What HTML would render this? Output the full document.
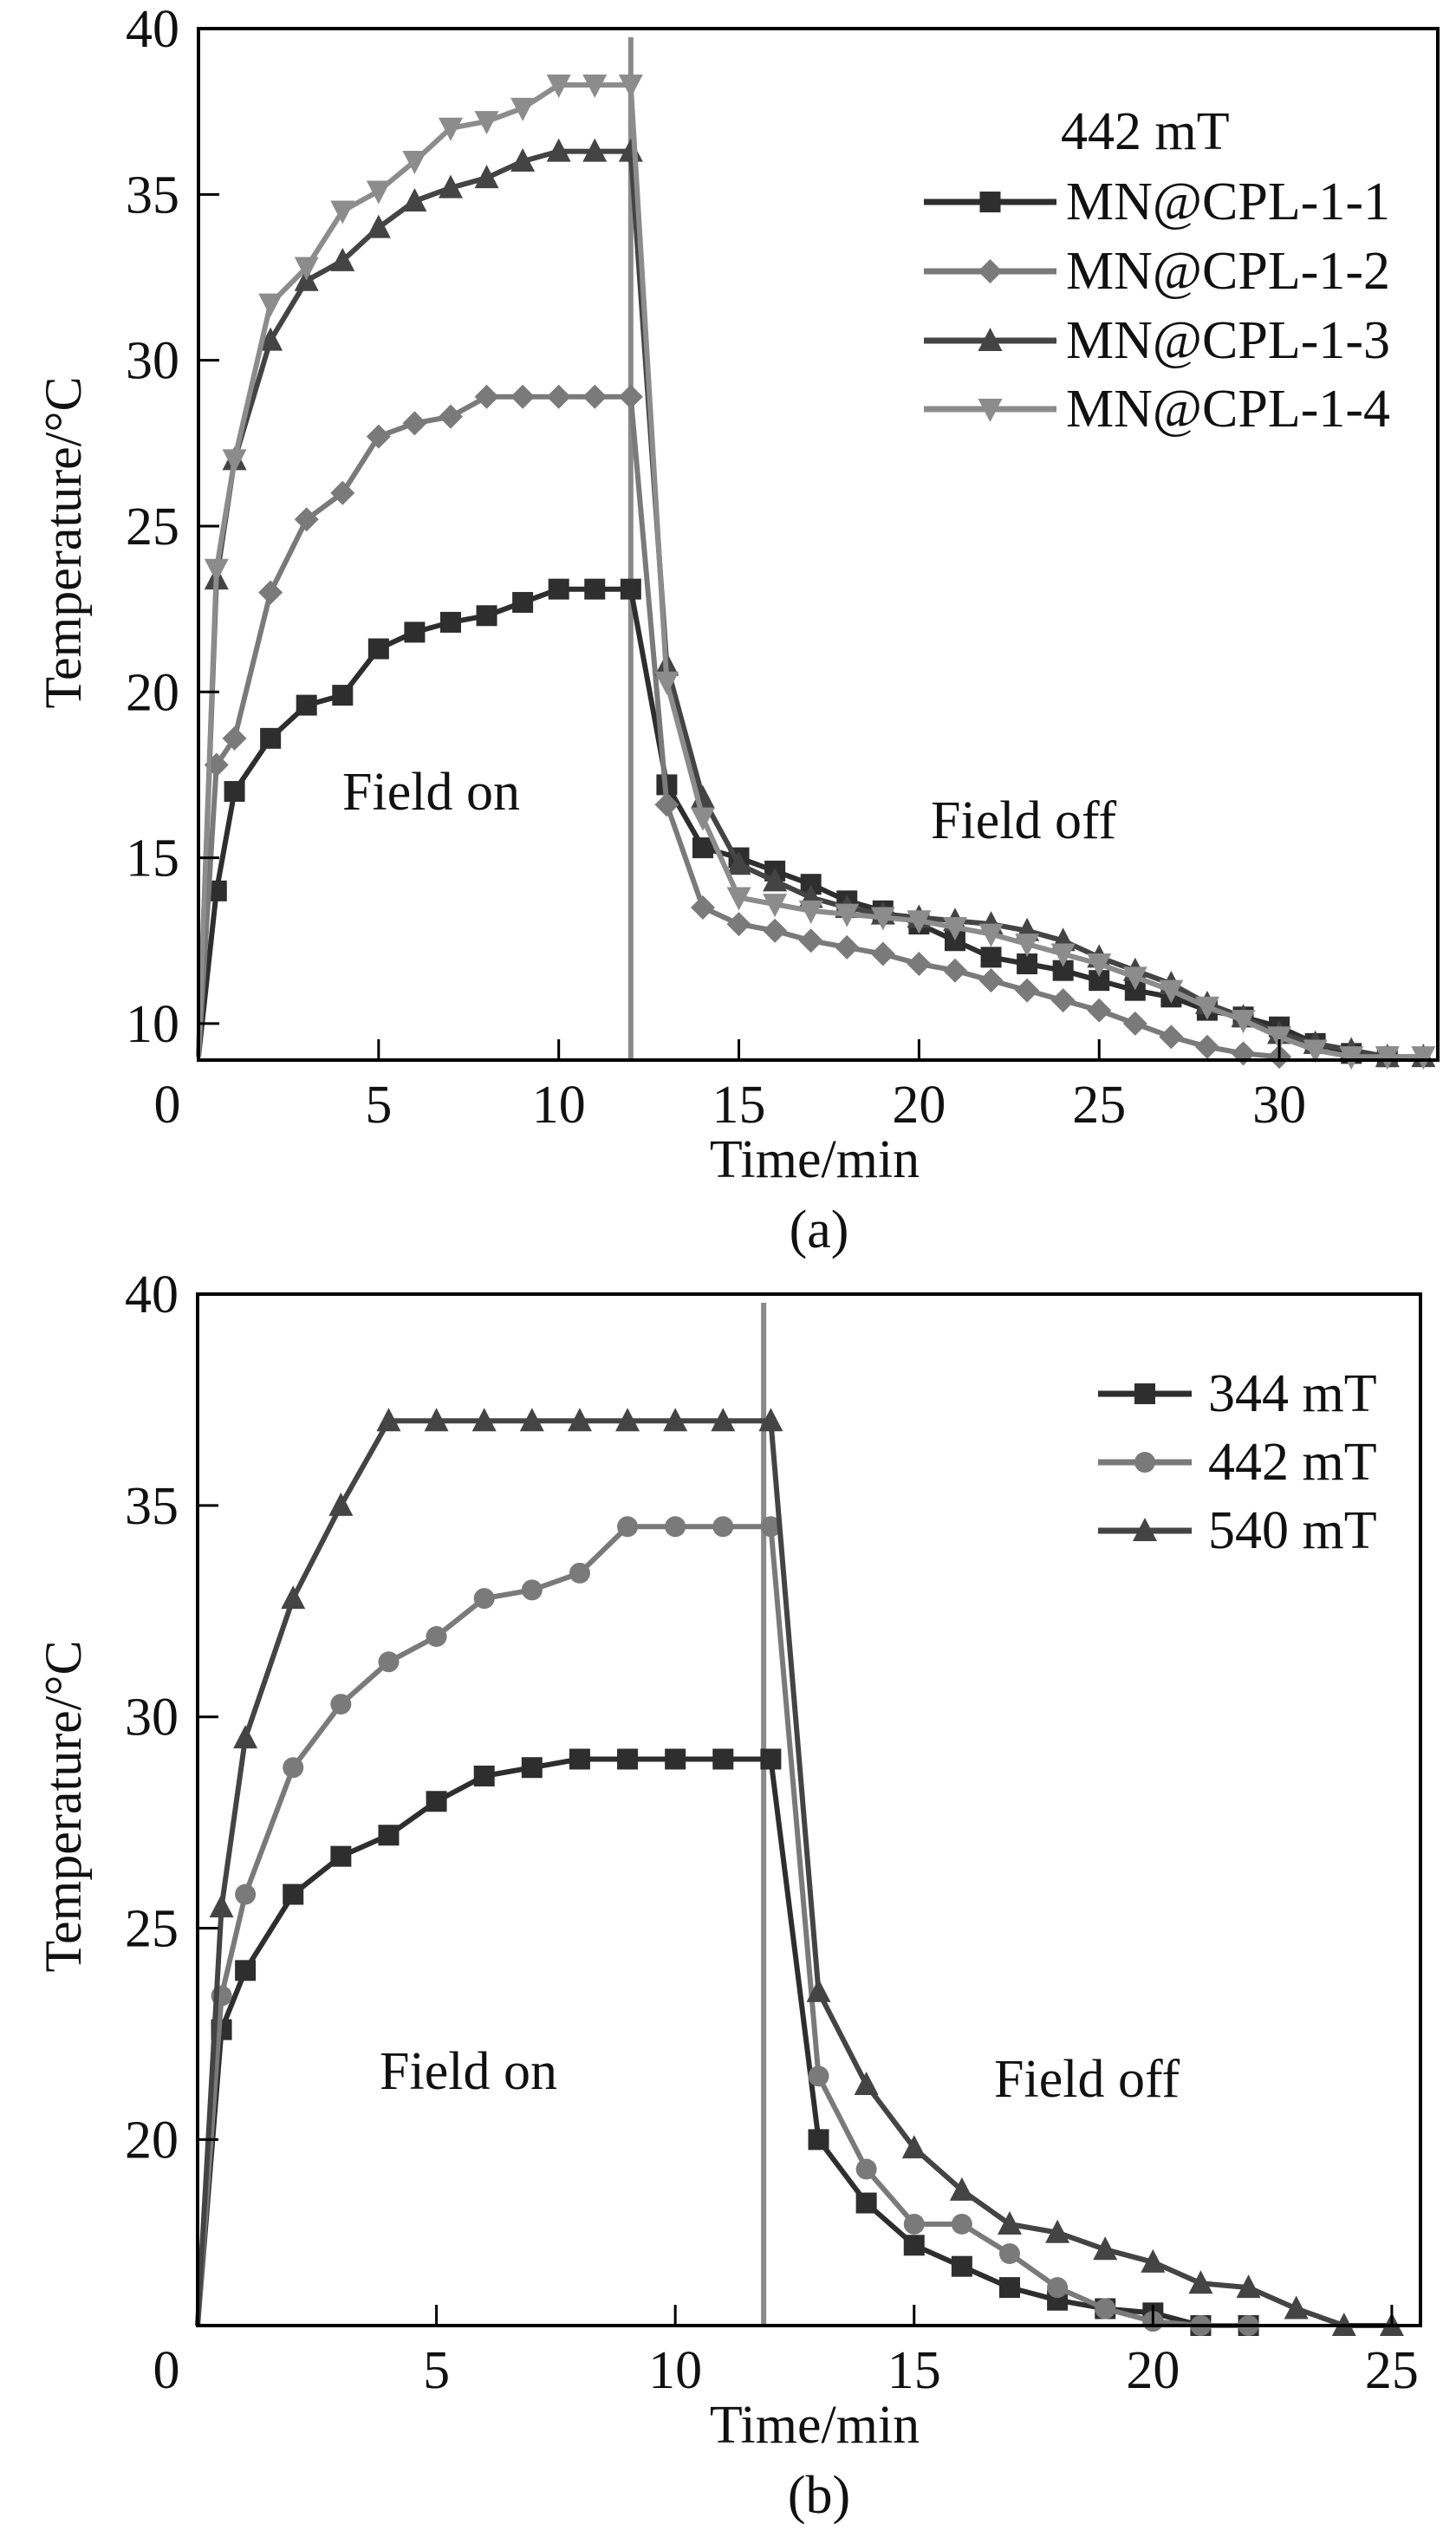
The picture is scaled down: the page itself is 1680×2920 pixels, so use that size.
<!DOCTYPE html>
<html><head><meta charset="utf-8">
<style>
html,body{margin:0;padding:0;background:#fff;}
svg{display:block;}
text{font-family:"Liberation Serif","Times New Roman",serif;fill:#111;}
</style></head>
<body>
<svg id="fig" width="1680" height="2920" viewBox="0 0 1680 2920" xmlns="http://www.w3.org/2000/svg"></svg>
<script>
// ---- Chart (a) data ----
const aX1 = [0,0.5,1,2,3,4,5,6,7,8,9,10,11,12,13,14,15,16,17,18,19,20,21,22,23,24,25,26,27,28,29,30,31,32,33];
const aY1 = [9,14,17,18.6,19.6,19.9,21.3,21.8,22.1,22.3,22.7,23.1,23.1,23.1,17.2,15.3,15,14.6,14.2,13.7,13.4,13,12.5,12,11.8,11.6,11.3,11,10.8,10.4,10.2,9.9,9.4,9.1,9];
const aX2 = [0,0.5,1,2,3,4,5,6,7,8,9,10,11,12,13,14,15,16,17,18,19,20,21,22,23,24,25,26,27,28,29,30];
const aY2 = [9,17.8,18.6,23,25.2,26,27.7,28.1,28.3,28.9,28.9,28.9,28.9,28.9,16.6,13.5,13,12.8,12.5,12.3,12.1,11.8,11.6,11.3,11,10.7,10.4,10,9.6,9.3,9.1,9];
const aX3 = [0,0.5,1,2,3,4,5,6,7,8,9,10,11,12,13,14,15,16,17,18,19,20,21,22,23,24,25,26,27,28,29,30,31,32,33,34];
const aY3 = [9,23.4,27,30.6,32.4,33,34,34.8,35.2,35.5,36,36.3,36.3,36.3,20.8,16.8,14.8,14.3,13.8,13.5,13.3,13.2,13.1,13,12.8,12.5,12,11.6,11.2,10.6,10.2,9.7,9.4,9.2,9,9];
const aX4 = [0,0.5,1,2,3,4,5,6,7,8,9,10,11,12,13,14,15,16,17,18,19,20,21,22,23,24,25,26,27,28,29,30,31,32,33,34];
const aY4 = [9,23.7,27,31.7,32.8,34.5,35.1,36,37,37.2,37.6,38.3,38.3,38.3,20.3,16.2,13.8,13.6,13.4,13.3,13.2,13.1,12.9,12.7,12.4,12.1,11.8,11.4,11,10.5,10.1,9.6,9.2,9,9,9];
const aLabels = ["MN@CPL-1-1","MN@CPL-1-2","MN@CPL-1-3","MN@CPL-1-4"];
const aXTicks = [0,5,10,15,20,25,30];
const aYTicks = [10,15,20,25,30,35,40];
// ---- Chart (b) data ----
const bX1 = [0,0.5,1,2,3,4,5,6,7,8,9,10,11,12,13,14,15,16,17,18,19,20,21,22];
const bY1 = [15.6,22.6,24,25.8,26.7,27.2,28,28.6,28.8,29,29,29,29,29,20,18.5,17.5,17,16.5,16.2,16,15.9,15.6,15.6];
const bX2 = [0,0.5,1,2,3,4,5,6,7,8,9,10,11,12,13,14,15,16,17,18,19,20,21,22];
const bY2 = [15.6,23.4,25.8,28.8,30.3,31.3,31.9,32.8,33,33.4,34.5,34.5,34.5,34.5,21.5,19.3,18,18,17.3,16.5,16,15.7,15.6,15.6];
const bX3 = [0,0.5,1,2,3,4,5,6,7,8,9,10,11,12,13,14,15,16,17,18,19,20,21,22,23,24,25];
const bY3 = [15.6,25.5,29.5,32.8,35,37,37,37,37,37,37,37,37,37,23.5,21.3,19.8,18.8,18,17.8,17.4,17.1,16.6,16.5,16,15.6,15.6];
const bLabels = ["344 mT","442 mT","540 mT"];
const bXTicks = [0,5,10,15,20,25];
const bYTicks = [20,25,30,35,40];

const NS="http://www.w3.org/2000/svg";
const svg=document.getElementById('fig');
function mk(tag,attrs,parent){const e=document.createElementNS(NS,tag);for(const k in attrs)e.setAttribute(k,attrs[k]);(parent||svg).appendChild(e);return e;}
function txt(s,x,y,anchor,size,parent){const t=mk('text',{x:x,y:y,'text-anchor':anchor||'start','font-size':size||62},parent);t.textContent=s;return t;}

function marker(g,type,x,y,color){
  const s=12;let e;
  if(type==='square') e=mk('rect',{x:x-s,y:y-s,width:2*s,height:2*s,fill:color},g);
  else if(type==='diamond') e=mk('polygon',{points:`${x},${y-s-2} ${x+s+2},${y} ${x},${y+s+2} ${x-s-2},${y}`,fill:color},g);
  else if(type==='circle') e=mk('circle',{cx:x,cy:y,r:s,fill:color},g);
  else if(type==='up') e=mk('polygon',{points:`${x},${y-s-3} ${x+s+2},${y+s} ${x-s-2},${y+s}`,fill:color},g);
  else e=mk('polygon',{points:`${x},${y+s+3} ${x+s+2},${y-s} ${x-s-2},${y-s}`,fill:color},g);
  
  
}

function chart(cfg){
  const g=mk('g',{});
  
  
  const sx=v=>cfg.L+(v-cfg.xmin)/(cfg.xmax-cfg.xmin)*(cfg.R-cfg.L);
  const sy=v=>cfg.B-(v-cfg.ymin)/(cfg.ymax-cfg.ymin)*(cfg.B-cfg.T);
  const vl=mk('line',{x1:sx(cfg.vline),x2:sx(cfg.vline),y1:cfg.T+10,y2:cfg.B,stroke:'#8a8a8a','stroke-width':6},g);
  
  
  cfg.series.forEach((s,i)=>{
    const sg=mk('g',{},g);
    
    
    const pts=s.x.map((v,j)=>sx(v).toFixed(1)+','+sy(s.y[j]).toFixed(1)).join(' ');
    mk('polyline',{points:pts,fill:'none',stroke:s.color,'stroke-width':6,'stroke-linejoin':'round'},sg);
    s.x.forEach((v,j)=>{ if(v>0) marker(sg,s.m,sx(v),sy(s.y[j]),s.color); });
  });
  const fr=mk('rect',{x:cfg.L,y:cfg.T,width:cfg.R-cfg.L,height:cfg.B-cfg.T,fill:'none',stroke:'#000','stroke-width':4},g);
  
  
  cfg.xt.forEach(v=>{
    if(v>0) mk('line',{x1:sx(v),x2:sx(v),y1:cfg.B,y2:cfg.B-24,stroke:'#000','stroke-width':3},g);
    const t=txt(String(v),v===0?cfg.L-36:sx(v),cfg.B+72,'middle',62,g);
    
    
  });
  cfg.yt.forEach(v=>{
    mk('line',{x1:cfg.L,x2:cfg.L+24,y1:sy(v),y2:sy(v),stroke:'#000','stroke-width':3},g);
    const t=txt(String(v),cfg.L-22,sy(v)+21,'end',62,g);
    
    
  });
  const xt=txt('Time/min',940,cfg.B+135,'middle',62,g);
  
  
  const yt=txt('Temperature/\u00B0C',0,0,'middle',60,g);
  yt.setAttribute('transform',`translate(93,${cfg.ytc}) rotate(-90)`);
  
  
  const cap=txt(cfg.caption,945,cfg.B+216,'middle',62,g);
  
  
  const fo=txt('Field on',cfg.fon[0],cfg.fon[1],'start',62,g);
  
  
  const ff=txt('Field off',cfg.foff[0],cfg.foff[1],'start',62,g);
  
  
  const lg=mk('g',{},g);
  
  
  if(cfg.legTitle){
    const lt=txt(cfg.legTitle[0],cfg.legTitle[1],cfg.legTitle[2],'start',62,lg);
    
    
  }
  cfg.series.forEach((s,i)=>{
    const y=cfg.legY[i];
    const eg=mk('g',{},lg);
    
    
    mk('line',{x1:cfg.legX[0],x2:cfg.legX[1],y1:y-20,y2:y-20,stroke:s.color,'stroke-width':7},eg);
    marker(eg,s.m,(cfg.legX[0]+cfg.legX[1])/2,y-20,s.color);
    txt(s.label,cfg.legX[2],y,'start',62,eg);
  });
}

chart({name:'chart-a',L:229,R:1659,T:33,B:1223,xmin:0,xmax:34.4,ymin:8.9,ymax:40,vline:12,
  xt:aXTicks,yt:aYTicks,caption:'(a)',ytc:626,fon:[395,934],foff:[1074,967],
  legTitle:['442 mT',1224,172],legY:[253,333,413,492],legX:[1066,1219,1230],
  series:[
    {x:aX1,y:aY1,m:'square',color:'#2e2e2e',label:aLabels[0]},
    {x:aX2,y:aY2,m:'diamond',color:'#7a7a7a',label:aLabels[1]},
    {x:aX3,y:aY3,m:'up',color:'#444',label:aLabels[2]},
    {x:aX4,y:aY4,m:'down',color:'#8c8c8c',label:aLabels[3]}
  ]});
chart({name:'chart-b',L:228,R:1639,T:1493,B:2683,xmin:0,xmax:25.6,ymin:15.6,ymax:40,vline:11.85,
  xt:bXTicks,yt:bYTicks,caption:'(b)',ytc:2084,fon:[438,2410],foff:[1147,2419],
  legTitle:null,legY:[1628,1707,1786],legX:[1267,1375,1394],
  series:[
    {x:bX1,y:bY1,m:'square',color:'#2e2e2e',label:bLabels[0]},
    {x:bX2,y:bY2,m:'circle',color:'#7a7a7a',label:bLabels[1]},
    {x:bX3,y:bY3,m:'up',color:'#444',label:bLabels[2]}
  ]});
</script>
</body></html>
